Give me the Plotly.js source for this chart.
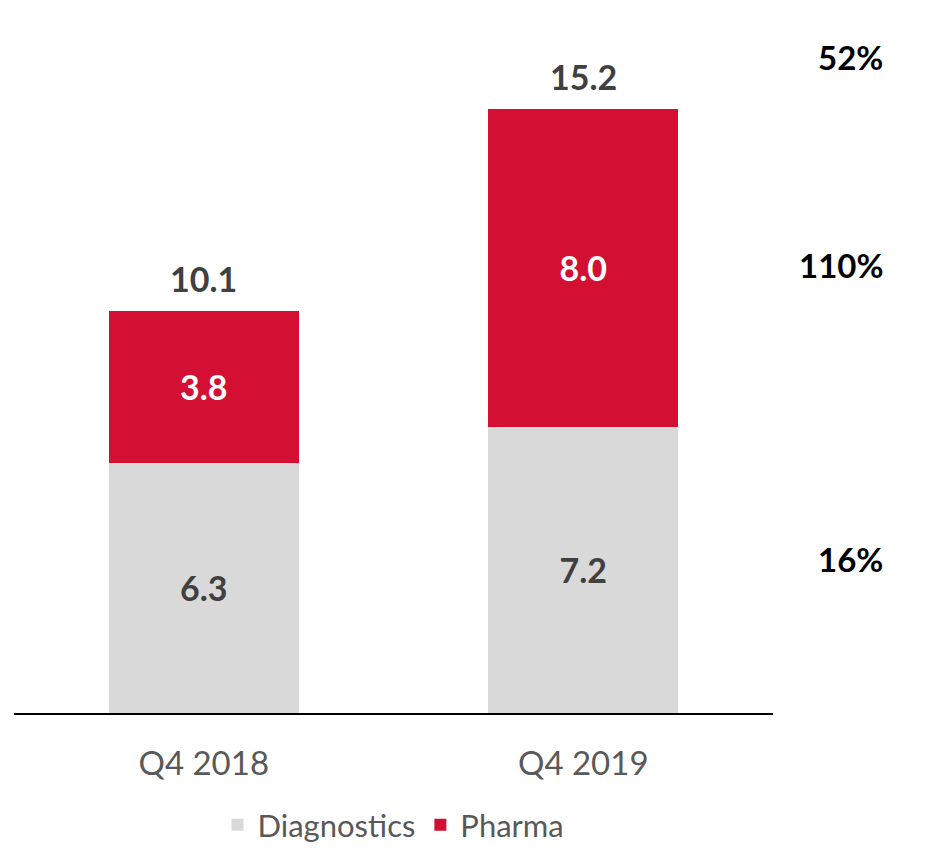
<!DOCTYPE html>
<html>
<head>
<meta charset="utf-8">
<script src="https://cdn.plot.ly/plotly-3.0.1.min.js"></script>
<style>html,body{margin:0;padding:0;background:#fff;}#chart{width:933px;height:848px;}</style>
</head>
<body>
<div id="chart"></div>
<script>
const categories = ["Q4 2018", "Q4 2019"];
const diagnostics = [6.3, 7.2];
const pharma = [3.8, 8.0];
const totals = [10.1, 15.2];
const growthLabels = ["52%", "110%", "16%"];
const growthLevels = [16.5, 11.27, 3.87];

const FONT = "Lato, 'Open Sans', sans-serif";

const traces = [
  {
    type: "bar", name: "Diagnostics", x: categories, y: diagnostics,
    marker: {color: "#D9D9D9"},
    texttemplate: "<b>%{y:.1f}</b>", textposition: "inside", insidetextanchor: "middle",
    textfont: {family: FONT, size: 34, color: "#404040"},
    hoverinfo: "skip"
  },
  {
    type: "bar", name: "Pharma", x: categories, y: pharma,
    marker: {color: "#D31033"},
    texttemplate: "<b>%{y:.1f}</b>", textposition: "inside", insidetextanchor: "middle",
    textfont: {family: FONT, size: 34, color: "#FFFFFF"},
    hoverinfo: "skip"
  }
];

const annotations = [];
categories.forEach((c, i) => {
  annotations.push({
    x: c, y: totals[i], xref: "x", yref: "y", text: "<b>" + totals[i].toFixed(1) + "</b>",
    showarrow: false, yanchor: "bottom", yshift: 10,
    font: {family: FONT, size: 34, color: "#404040"}
  });
});
growthLabels.forEach((g, i) => {
  annotations.push({
    x: 1.148, xref: "paper", y: growthLevels[i], yref: "y", text: "<b>" + g + "</b>",
    showarrow: false, xanchor: "right", yanchor: "middle",
    font: {family: FONT, size: 33, color: "#000000"}
  });
});

const layout = {
  width: 933, height: 848,
  margin: {l: 14, r: 160, t: 20, b: 135, autoexpand: false},
  paper_bgcolor: "#fff", plot_bgcolor: "#fff",
  barmode: "stack", bargap: 0.5,
  showlegend: true,
  legend: {orientation: "h", x: 0.5, xanchor: "center", y: -0.1616, yanchor: "middle",
           font: {family: FONT, size: 31, color: "#595959"}, traceorder: "normal"},
  xaxis: {
    type: "category", showline: true, linecolor: "#000", linewidth: 2,
    showgrid: false, zeroline: false, ticks: "outside", ticklen: 20, tickcolor: "rgba(0,0,0,0)",
    tickfont: {family: FONT, size: 33, color: "#595959"}, fixedrange: true
  },
  yaxis: {range: [0, 17.43], visible: false, showgrid: false, zeroline: false, fixedrange: true},
  annotations: annotations
};

Plotly.newPlot("chart", traces, layout, {displayModeBar: false, staticPlot: true});
</script>
</body>
</html>
